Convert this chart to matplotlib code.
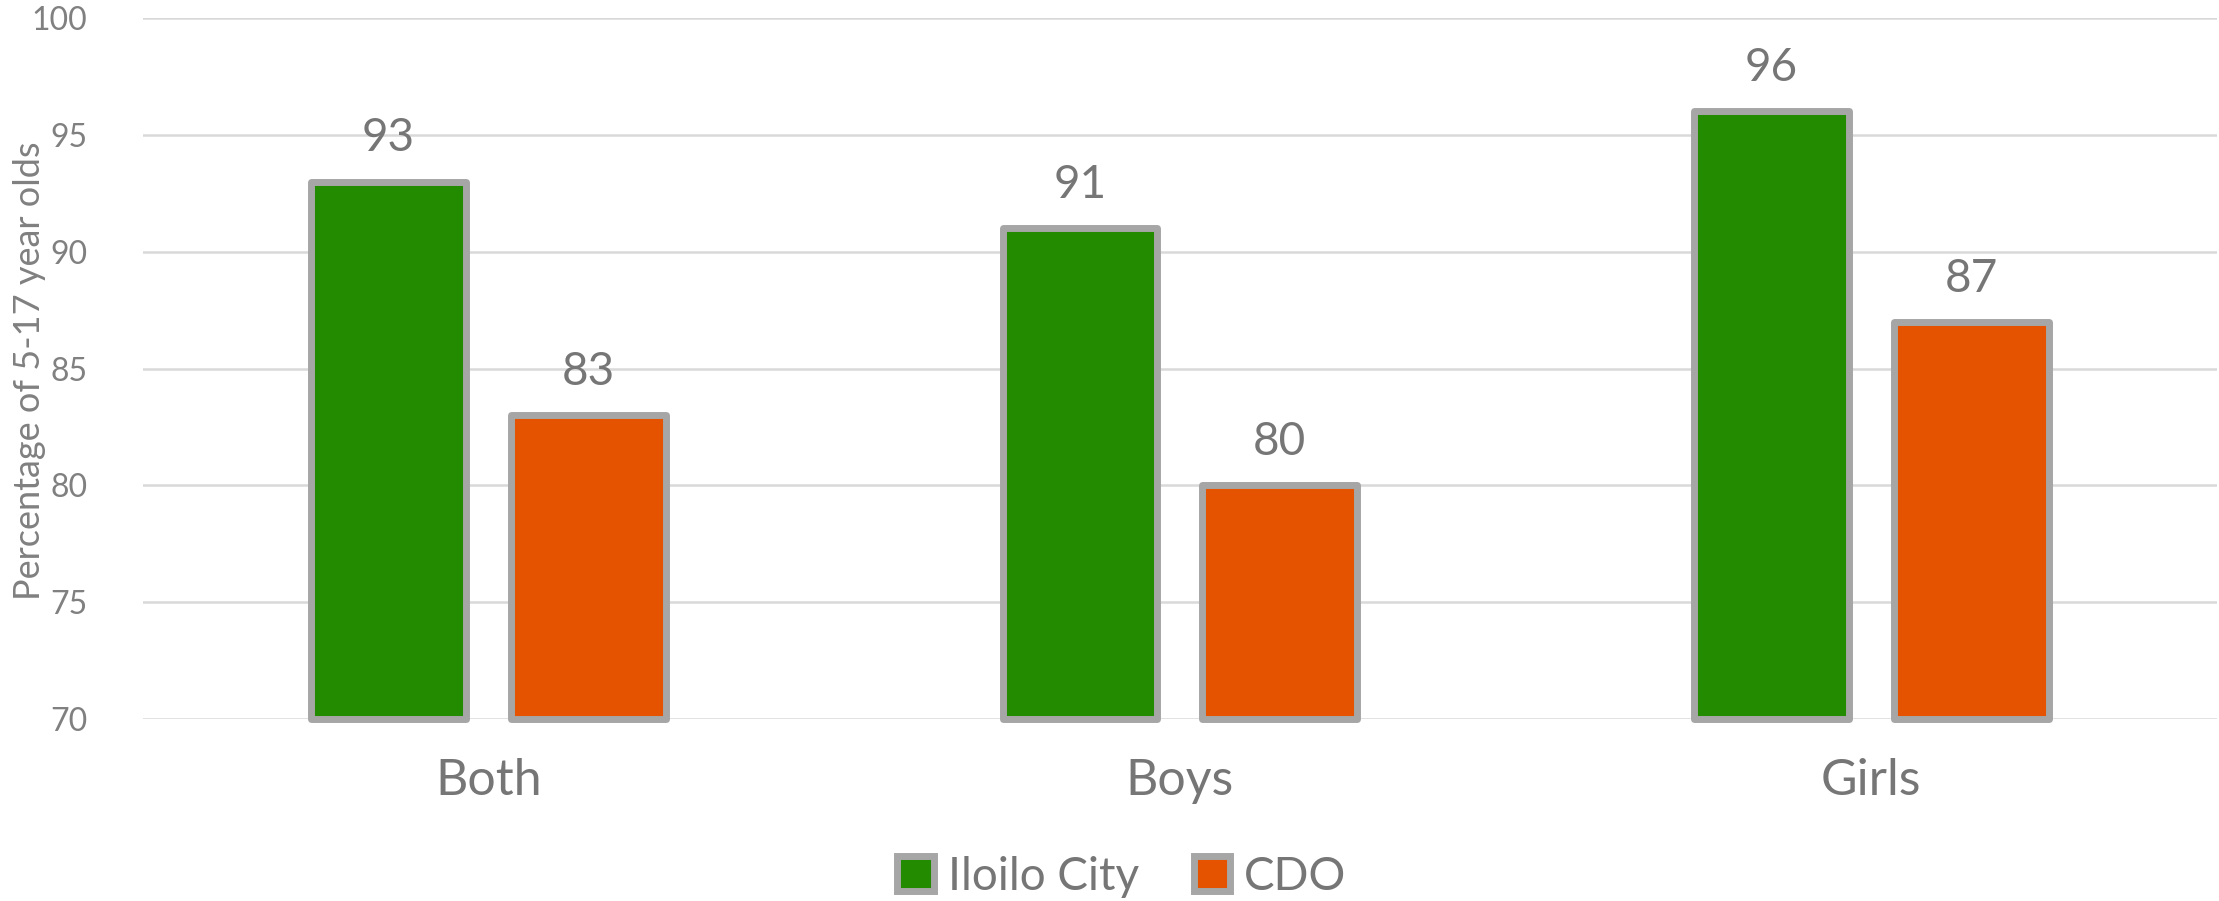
import matplotlib
matplotlib.use("Agg")
import matplotlib.pyplot as plt
import numpy as np

groups = ["Both", "Boys", "Girls"]
iloilo = [93, 91, 96]
cdo = [83, 80, 87]

green = "#228B00"
orange = "#E55300"
edge = "#A6A6A6"
txt = "#767676"
base = 70

plt.rcParams["font.family"] = ["Lato", "DejaVu Sans"]

fig = plt.figure(figsize=(22.19, 9.01), dpi=100)
ax = fig.add_axes([0.0644, 0.202, 0.9347, 0.778])

x = np.arange(len(groups))
w = 0.224
off = 0.1445

b1 = ax.bar(x - off, np.array(iloilo) - base, w, bottom=base, color=green,
            edgecolor=edge, linewidth=5, label="Iloilo City", zorder=3, clip_on=False)
b2 = ax.bar(x + off, np.array(cdo) - base, w, bottom=base, color=orange,
            edgecolor=edge, linewidth=5, label="CDO", zorder=3, clip_on=False)
for b in list(b1) + list(b2):
    b.set_joinstyle("round")

for bars, vals in ((b1, iloilo), (b2, cdo)):
    for r, v in zip(bars, vals):
        ax.text(r.get_x() + r.get_width() / 2, v + 0.95, str(v), ha="center",
                va="bottom", fontsize=33, color=txt)

ax.set_ylim(base, 100)
ax.set_xlim(-0.5, 2.5)
ax.set_yticks(range(70, 101, 5))
ax.yaxis.grid(True, color="#D9D9D9", linewidth=1.8, zorder=0)
ax.set_axisbelow(True)
for s in ax.spines.values():
    s.set_visible(False)
ax.tick_params(axis="y", length=0, labelsize=23, labelcolor="#808080", pad=40)
ax.tick_params(axis="x", length=0, labelsize=36, labelcolor=txt, pad=28)
ax.set_xticks(x)
ax.set_xticklabels(groups)

# y label placed by hand, the default spot runs off the left edge
fig.text(0.0135, 0.589, "Percentage of 5-17 year olds", rotation=90,
         ha="center", va="center", fontsize=26, color="#808080")

leg = ax.legend(loc="center", bbox_to_anchor=(0.5 - 0.028, -0.225), ncol=2,
                frameon=False, fontsize=33, handlelength=0.8, handleheight=0.8,
                handletextpad=0.3, columnspacing=1.2, labelcolor=txt)
for h in leg.legend_handles:
    h.set_linewidth(5)

fig.savefig("out.png", dpi=100)
